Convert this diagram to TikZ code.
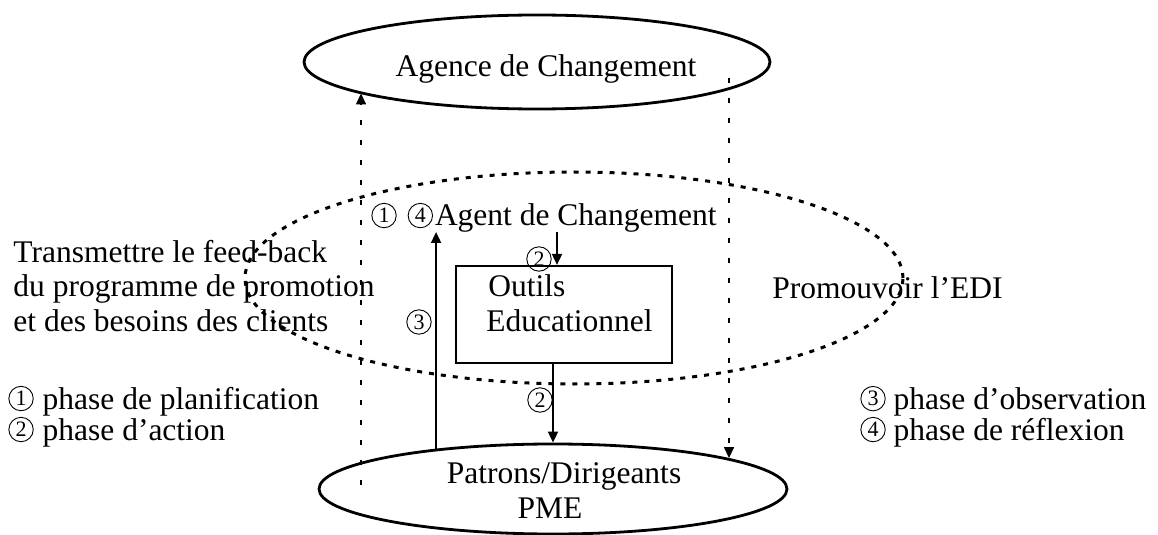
\documentclass[tikz,border=0pt]{standalone}
\usepackage{fontspec}
\setmainfont{Liberation Serif}
\usetikzlibrary{shapes.geometric,arrows.meta}
% circled phase numbers: thin ring around a serif digit
\newcommand{\cn}[1]{\tikz[baseline={([yshift=-1.6pt]d.base)}]\node[circle, draw, line width=0.45pt, minimum size=12.2pt, inner sep=0pt, font=\fontsize{11pt}{11pt}\selectfont] (d) {#1};}

\begin{document}
\begin{tikzpicture}[x=0.5pt,y=-0.5pt,
  every node/.style={font=\fontsize{15.75pt}{17pt}\selectfont, inner sep=0pt},
  solidell/.style={ellipse, draw, line width=1.4pt},
  dotell/.style={ellipse, draw, line width=1.5pt, dash pattern=on 2.5pt off 3.5pt},
  toolbox/.style={rectangle, draw, line width=1.1pt},
  txt/.style={anchor=base west},
  num/.style={anchor=center},
  arr/.style={line width=0.9pt, -{Triangle[length=5.5pt,width=5pt]}},
  dasharr/.style={line width=0.7pt, dash pattern=on 2.5pt off 7.5pt, -{Triangle[length=5.5pt,width=5pt]}}]

\useasboundingbox (0,0) rectangle (1158,535);

% the three levels
\node[solidell, minimum width=233pt, minimum height=47pt] (topell) at (537,62) {};
\node[anchor=base] (toplabel) at (546,77) {Agence de Changement};

\node[solidell, minimum width=234pt, minimum height=45pt] (botell) at (553,489) {};
\node[anchor=base] (botlabA) at (564,483) {Patrons/Dirigeants};
\node[anchor=base] (botlabB) at (550,518) {PME};

% middle: agent and educational tools
\node[txt] (agent) at (371,226) {\cn{1}\hspace{5.5pt}\cn{4}\hspace{1pt}Agent de Changement};
\node[toolbox, minimum width=108pt, minimum height=48.5pt] (box) at (564,314.5) {};
\node[txt] (outils) at (488,297) {Outils};
\node[txt] (educ) at (486,331) {Educationnel};

% side texts
\node[txt] (l1) at (13,263) {Transmettre le feed-back};
\node[txt] (l2) at (13,297) {du programme de promotion};
\node[txt] (l3) at (13,331) {et des besoins des clients};
\node[txt] (promo) at (772,299) {Promouvoir l’EDI};

% legend
\node[txt] (leg1) at (8,409) {\cn{1}\hspace{4.5pt}phase de planification};
\node[txt] (leg2) at (8,440) {\cn{2}\hspace{4.5pt}phase d’action};
\node[txt] (leg3) at (860,409) {\cn{3}\hspace{4pt}phase d’observation};
\node[txt] (leg4) at (860,440) {\cn{4}\hspace{4pt}phase de réflexion};

% dotted scope of the agent
\node[dotell, minimum width=329pt, minimum height=106pt] (midell) at (574,278) {};

% feedback and promotion channels
\coordinate (lfoot) at (361,485);
\coordinate (rhead) at (729,78);
\draw[dasharr] (lfoot) -- (lfoot |- topell.190);
\draw[dasharr] (rhead) -- (rhead |- botell.10);

% action and observation arrows
\coordinate (boxin) at ([xshift=-3.5pt]box.north);
\coordinate (agentfoot) at ([yshift=-3pt]agent.base);
\draw[arr] (agentfoot -| boxin) -- (boxin);
\draw[arr] (botell.north |- box.south) -- (botell.north);
\draw[arr] (botell.161) -- (botell.161 |- agentfoot);

\node[num] (n2a) at (539,259) {\cn{2}};
\node[num] (n2b) at (540,400) {\cn{2}};
\node[num] (n3) at (419,322) {\cn{3}};
\end{tikzpicture}
\end{document}
